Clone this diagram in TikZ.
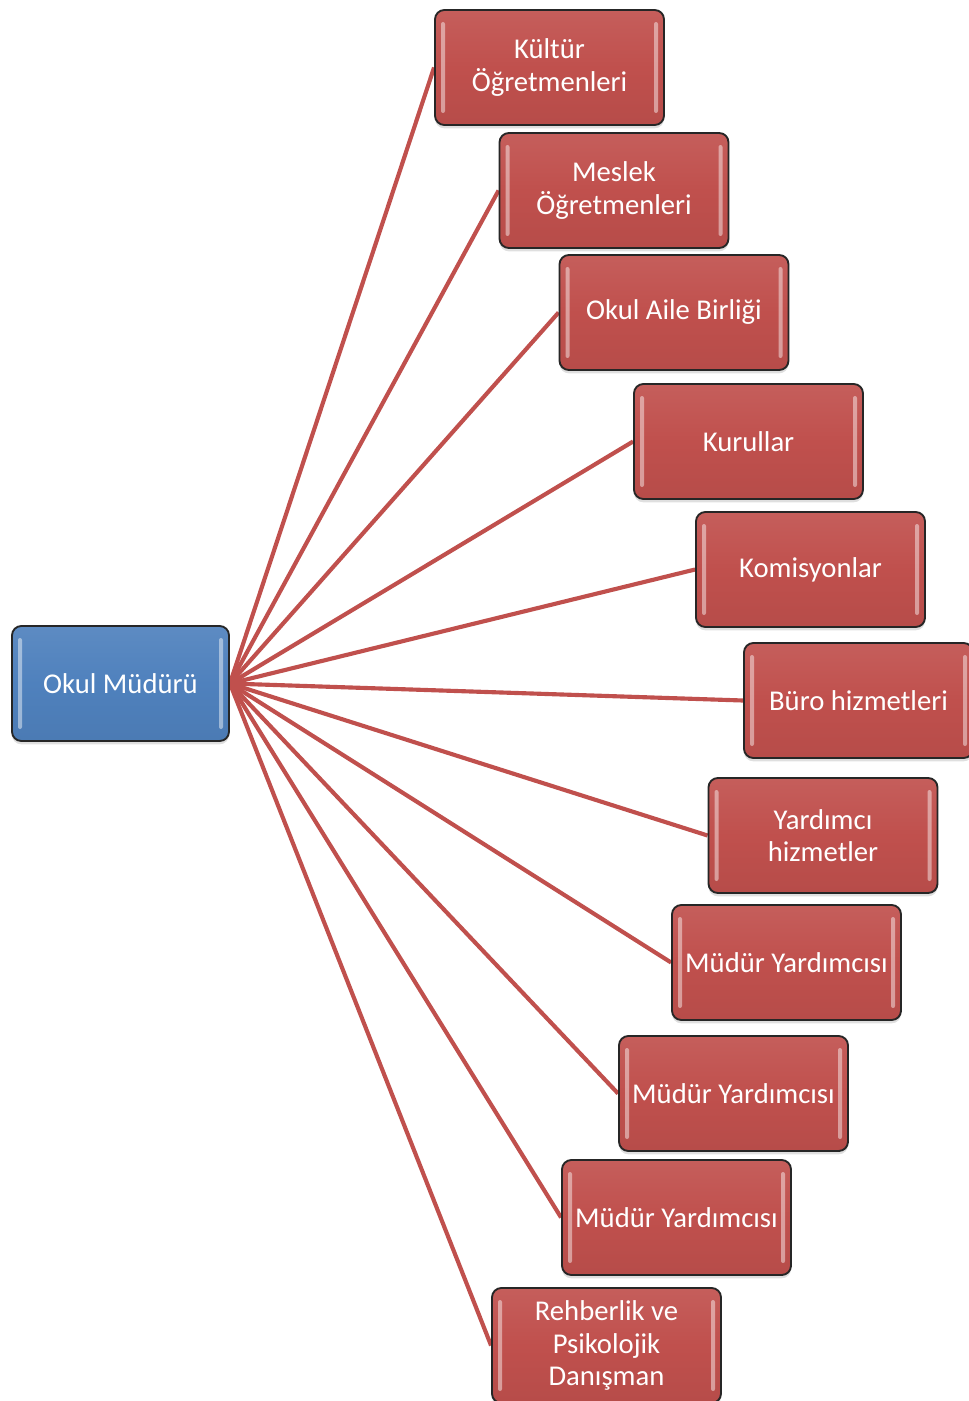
\documentclass[tikz,border=0pt]{standalone}
\usepackage{fontspec}
\setmainfont{Carlito}
\usetikzlibrary{shadows,backgrounds}
\definecolor{accred}{HTML}{C0504D}
\definecolor{accblue}{HTML}{4F81BD}
\tikzset{
  bevelbox/.style={draw=black!85, line width=1.4pt, rounded corners=7pt,
    minimum width=171.75pt, minimum height=86.25pt, inner sep=0pt,
    text=white, align=center, font=\fontsize{21.5}{24.5}\selectfont,
    drop shadow={shadow xshift=0pt, shadow yshift=-2.5pt, opacity=0.25},
    path picture={
      \fill[white, opacity=0.45, rounded corners=1.5pt]
        ([xshift=4.5pt,yshift=-9pt]path picture bounding box.north west) rectangle
        ([xshift=7.5pt,yshift=9pt]path picture bounding box.south west);
      \fill[white, opacity=0.45, rounded corners=1.5pt]
        ([xshift=-4.5pt,yshift=-9pt]path picture bounding box.north east) rectangle
        ([xshift=-7.5pt,yshift=9pt]path picture bounding box.south east);
    }},
  redbox/.style={bevelbox, top color=accred!92!white, bottom color=accred!95!black, middle color=accred},
  bluebox/.style={bevelbox, minimum width=162.75pt, top color=accblue!92!white, bottom color=accblue!95!black, middle color=accblue},
  link/.style={draw=accred, line width=3.1pt}
}
\begin{document}
\begin{tikzpicture}[x=0.75pt,y=-0.75pt]
\useasboundingbox (0,0) rectangle (969,1401);
\node[bluebox] (root) at (120.5,683.5) {Okul Müdürü};
\node[redbox] (n1) at (549.5,67.5) {Kültür\\Öğretmenleri};
\node[redbox] (n2) at (614,190.5) {Meslek\\Öğretmenleri};
\node[redbox] (n3) at (674,312.5) {Okul Aile Birliği};
\node[redbox] (n4) at (748.5,441.5) {Kurullar};
\node[redbox] (n5) at (810.5,569.5) {Komisyonlar};
\node[redbox] (n6) at (858.5,700.5) {Büro hizmetleri};
\node[redbox] (n7) at (823,835.5) {Yardımcı\\hizmetler};
\node[redbox] (n8) at (786.5,962.5) {Müdür Yardımcısı};
\node[redbox] (n9) at (733.5,1093.5) {Müdür Yardımcısı};
\node[redbox] (n10) at (676.5,1217.5) {Müdür Yardımcısı};
\node[redbox] (n11) at (606.5,1345.5) {Rehberlik ve\\Psikolojik\\Danışman};
\begin{scope}[on background layer]
\foreach \i in {1,...,11} {\draw[link] (root.east) -- (n\i.west);}
\end{scope}
\end{tikzpicture}
\end{document}
